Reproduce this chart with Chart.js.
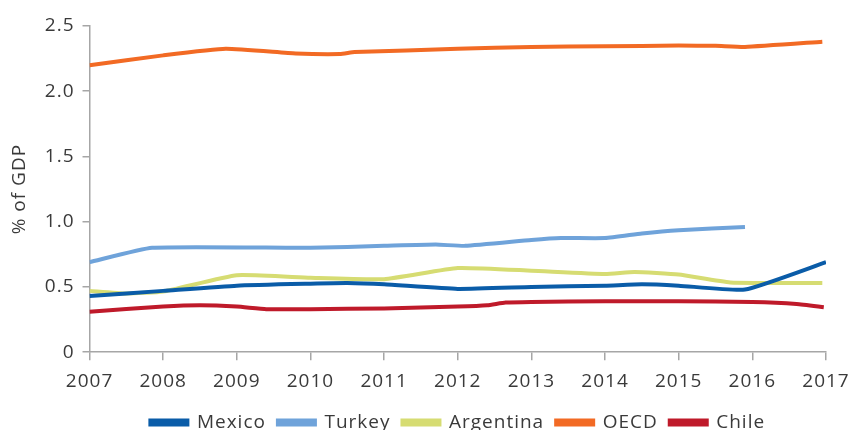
<!DOCTYPE html>
<html>
<head>
<meta charset="utf-8">
<script src="https://cdn.jsdelivr.net/npm/chart.js@4/dist/chart.umd.min.js"></script>
<style>
  html, body { margin: 0; padding: 0; background: #fff; }
  #wrap { width: 853px; height: 430px; }
</style>
</head>
<body>
<div id="wrap"><canvas id="chart" width="853" height="430"></canvas></div>
<script>
// values (x = year, y = % of GDP)
const mexico = [
  [2007, 0.43], [2008, 0.47], [2009, 0.51], [2010, 0.525], [2010.5, 0.53],
  [2011, 0.52], [2012, 0.485], [2013, 0.50], [2014, 0.51], [2014.5, 0.52],
  [2015, 0.51], [2015.9, 0.48], [2017, 0.69]
];
const turkey = [
  [2007, 0.69], [2007.85, 0.80], [2010, 0.80], [2011, 0.815], [2011.7, 0.825],
  [2012.1, 0.815], [2013, 0.86], [2013.4, 0.875], [2014, 0.875], [2014.5, 0.91],
  [2015, 0.935], [2015.9, 0.96]
];
const argentina = [
  [2007, 0.47], [2007.5, 0.45], [2008, 0.465], [2009, 0.59], [2010, 0.57],
  [2011, 0.56], [2012, 0.645], [2013, 0.625], [2014, 0.60], [2014.4, 0.615],
  [2015, 0.595], [2015.7, 0.535], [2016.95, 0.53]
];
const oecd = [
  [2007, 2.20], [2008, 2.275], [2008.85, 2.325], [2009.8, 2.29], [2010.4, 2.285],
  [2010.6, 2.30], [2012, 2.325], [2013, 2.34], [2014, 2.345], [2015, 2.35],
  [2015.5, 2.348], [2015.9, 2.34], [2016.95, 2.38]
];
const chile = [
  [2007, 0.31], [2008, 0.35], [2008.5, 0.36], [2009, 0.35], [2009.4, 0.33],
  [2010, 0.33], [2011, 0.335], [2012, 0.35], [2012.4, 0.36], [2012.65, 0.38],
  [2013, 0.385], [2014, 0.39], [2015, 0.39], [2016, 0.385], [2016.6, 0.37],
  [2016.97, 0.345]
];
const yTicks = [0, 0.5, 1.0, 1.5, 2.0, 2.5];

const toPts = arr => arr.map(p => ({ x: p[0], y: p[1] }));

const font = "'Open Sans', 'DejaVu Sans', sans-serif";
const axisGrey = '#a6a6a6';
const textCol = '#3a3a3a';

// the reference type is set a little wider than Open Sans
const spacing = {
  id: 'spacing',
  beforeUpdate: c => { c.ctx.letterSpacing = '1px'; },
  beforeDraw: c => { c.ctx.letterSpacing = '1px'; }
};

function series(label, data, color) {
  return {
    label: label,
    data: toPts(data),
    borderColor: color,
    backgroundColor: color,
    borderWidth: 4,
    pointRadius: 0,
    tension: 0.15,
    fill: false
  };
}

new Chart(document.getElementById('chart').getContext('2d'), {
  type: 'line',
  data: {
    datasets: [
      series('Mexico', mexico, '#0a5ca8'),
      series('Turkey', turkey, '#6fa3da'),
      series('Argentina', argentina, '#d6dc72'),
      series('OECD', oecd, '#f26a24'),
      series('Chile', chile, '#bf1a2a')
    ]
  },
  plugins: [spacing],
  options: {
    responsive: false,
    animation: false,
    layout: { padding: { top: 26, right: 0, left: 8, bottom: -12 } },
    plugins: {
      tooltip: { enabled: false },
      legend: {
        position: 'bottom',
        fullSize: false,
        labels: {
          boxWidth: 37,
          boxHeight: 4,
          padding: 12,
          color: textCol,
          font: { family: font, size: 19 }
        }
      }
    },
    scales: {
      x: {
        type: 'linear',
        min: 2007,
        max: 2017,
        afterFit: s => { s.paddingRight = 27; s.height -= 2; },
        border: { color: axisGrey, width: 1.5 },
        grid: { drawOnChartArea: false, color: axisGrey, tickLength: 8, lineWidth: 1.5 },
        ticks: {
          stepSize: 1,
          autoSkip: false,
          maxRotation: 0,
          padding: 10,
          color: textCol,
          font: { family: font, size: 19 },
          callback: v => String(v)
        }
      },
      y: {
        min: 0,
        max: 2.5,
        afterBuildTicks: axis => { axis.ticks = yTicks.map(v => ({ value: v })); },
        border: { color: axisGrey, width: 1.5 },
        grid: { drawOnChartArea: false, color: axisGrey, tickLength: 7, lineWidth: 1.5 },
        title: {
          display: true,
          text: '% of GDP',
          color: textCol,
          padding: { top: 0, bottom: 6 },
          font: { family: font, size: 19 }
        },
        ticks: {
          padding: 8,
          color: textCol,
          font: { family: font, size: 19 },
          callback: v => v === 0 ? '0' : v.toFixed(1)
        }
      }
    }
  }
});
</script>
</body>
</html>
